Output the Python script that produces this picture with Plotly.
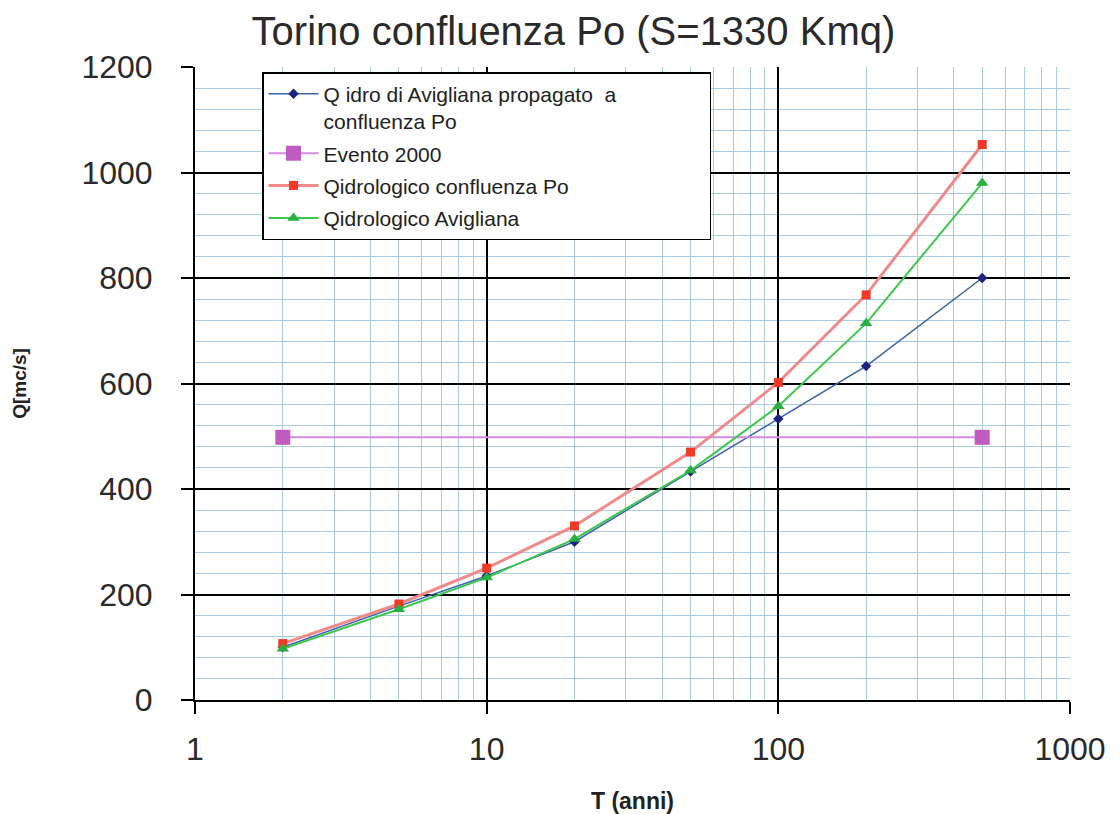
import plotly.graph_objects as go

T = [2, 5, 10, 20, 50, 100, 200, 500]
q_propagato = [100, 178, 235, 300, 433, 533, 633, 800]
q_confluenza = [107, 182, 250, 330, 470, 602, 768, 1053]
q_avigliana = [97, 172, 232, 305, 435, 557, 714, 980]
T_evento = [2, 500]
q_evento = [498, 498]

names = [
    "Q idro di Avigliana propagato  a" + "\u00a0" * 15 + "<br>confluenza Po",
    "Evento 2000",
    "Qidrologico confluenza Po",
    "Qidrologico Avigliana",
]

fig = go.Figure()
fig.add_trace(go.Scatter(x=T, y=q_propagato, mode="lines+markers", name=names[0],
                         legendgroup="a",
                         line=dict(color="#3a62b0", width=1.5),
                         marker=dict(symbol="diamond", size=8, color="#1a237e")))
fig.add_trace(go.Scatter(x=T_evento, y=q_evento, mode="lines+markers", name=names[1],
                         legendgroup="b",
                         line=dict(color="#d58be0", width=2),
                         marker=dict(symbol="square", size=15, color="#c05cc0")))
fig.add_trace(go.Scatter(x=T, y=q_confluenza, mode="lines+markers", name=names[2],
                         legendgroup="c",
                         line=dict(color="#f08a8a", width=3),
                         marker=dict(symbol="square", size=9, color="#f03a28")))
fig.add_trace(go.Scatter(x=T, y=q_avigliana, mode="lines+markers", name=names[3],
                         legendgroup="d",
                         line=dict(color="#3cc84a", width=2),
                         marker=dict(symbol="triangle-up", size=11, color="#28b040")))

fig.update_layout(
    width=1120, height=814,
    margin=dict(l=195, r=50, t=67, b=114),
    paper_bgcolor="white", plot_bgcolor="white",
    font=dict(family="Liberation Sans, Arial, sans-serif", color="#222222"),
    title=dict(text="Torino confluenza Po (S=1330 Kmq)", x=0.512, xanchor="center",
               y=0.962, yanchor="middle", font=dict(size=40, color="#2a2a2a")),
    showlegend=True,
    legend=dict(x=0.0766, y=0.992, xanchor="left", yanchor="top",
                bgcolor="white", bordercolor="black", borderwidth=1.5,
                font=dict(size=21, color="#222222"), tracegroupgap=2,
                itemwidth=50, valign="top"),
)
fig.update_xaxes(
    type="log", range=[0, 3], automargin=False,
    tickvals=[1, 10, 100, 1000], ticktext=["1", "10", "100", "1000"],
    tickfont=dict(size=32, color="#2a2a2a"),
    ticks="outside", ticklen=12, tickcolor="black", tickwidth=1.5,
    ticklabelstandoff=8,
    showgrid=True, gridcolor="black", gridwidth=1.5,
    minor=dict(dtick="D1", showgrid=True, gridcolor="#a9cbe6", gridwidth=1),
    showline=True, linecolor="black", linewidth=2,
    zeroline=False,
    title=dict(text="<b>T (anni)</b>", font=dict(size=23, color="#222222"), standoff=30),
)
fig.update_yaxes(
    range=[0, 1200], dtick=200, automargin=False,
    tickfont=dict(size=32, color="#2a2a2a"),
    ticks="outside", ticklen=12, tickcolor="black", tickwidth=1.5,
    ticklabelstandoff=22,
    showgrid=True, gridcolor="black", gridwidth=1.5,
    minor=dict(dtick=40, showgrid=True, gridcolor="#a9cbe6", gridwidth=1),
    showline=True, linecolor="black", linewidth=2,
    zeroline=False,
    title=dict(text="<b>Q[mc/s]</b>", font=dict(size=19, color="#222222"), standoff=50),
)

fig.write_html("out.html")
